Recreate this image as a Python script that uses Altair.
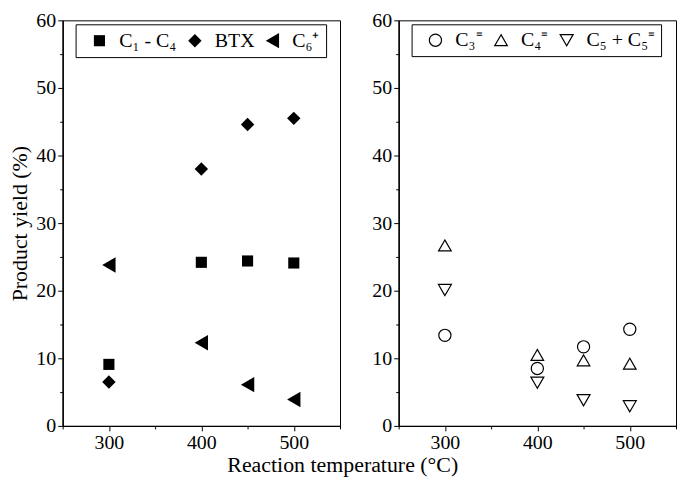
import altair as alt
import pandas as pd

temps = [300, 400, 450, 500]
c1c4 = [9.1, 24.2, 24.4, 24.1]
btx = [6.5, 38.0, 44.6, 45.5]
c6p = [23.8, 12.3, 6.1, 3.9]
c3 = [13.4, 8.5, 11.7, 14.3]
c4 = [26.7, 10.5, 9.7, 9.2]
c5 = [20.1, 6.4, 3.8, 2.9]

left_names = ["C\u2081 - C\u2084", "BTX", "C\u2086\u207a"]
right_names = ["C\u2083\u207c", "C\u2084\u207c", "C\u2085 + C\u2085\u207c"]
left_shapes = ["square", "diamond", "triangle-left"]
right_shapes = ["circle", "triangle-up", "triangle-down"]
left_sizes = [125, 240, 130]
right_sizes = [150, 170, 170]

FONT = "Liberation Serif"


def frame(names, series):
    rows = []
    for n, vals in zip(names, series):
        for t, v in zip(temps, vals):
            rows.append({"T": t, "v": v, "s": n})
    return pd.DataFrame(rows)


left_df = frame(left_names, [c1c4, btx, c6p])
right_df = frame(right_names, [c3, c4, c5])

xs = alt.Scale(domain=[250, 550], nice=False, zero=False)
ys = alt.Scale(domain=[0, 60], nice=False)


def panel(df, names, shapes, sizes, filled, ytitle):
    legend = alt.Legend(
        orient="none", legendX=13, legendY=4, direction="horizontal", title=None,
        strokeColor="black", padding=6, cornerRadius=0, labelFont=FONT,
        labelFontSize=20, labelColor="black",
        symbolFillColor="black" if filled else "transparent",
        symbolStrokeColor="black", symbolStrokeWidth=1.2,
        columnPadding=0, labelOffset=10, symbolOffset=8, labelLimit=300,
    )
    base = alt.Chart(df)
    pts = base.mark_point(
        filled=filled, color="black", opacity=1, strokeWidth=1.2
    ).encode(
        x=alt.X("T:Q", scale=xs, axis=alt.Axis(values=[300, 400, 500], tickSize=5,
                                               title=None, orient="bottom", labelPadding=2)),
        y=alt.Y("v:Q", scale=ys, axis=alt.Axis(values=list(range(0, 61, 10)), tickSize=5,
                                               title=ytitle, orient="left", labelPadding=2,
                                               titlePadding=4)),
        shape=alt.Shape("s:N", scale=alt.Scale(domain=names, range=shapes), legend=legend),
        size=alt.Size("s:N", scale=alt.Scale(domain=names, range=sizes), legend=legend),
    )
    minor = base.mark_point(opacity=0).encode(
        x=alt.X("T:Q", scale=xs, axis=alt.Axis(values=[250, 350, 450, 550], tickSize=3,
                                               labels=False, title=None, orient="bottom")),
        y=alt.Y("v:Q", scale=ys, axis=alt.Axis(values=list(range(5, 60, 10)), tickSize=3,
                                               labels=False, title=None, orient="left")),
    )
    return alt.layer(pts, minor).resolve_axis(x="independent", y="independent").properties(
        width=279, height=408
    )


left = panel(left_df, left_names, left_shapes, left_sizes, True, "Product yield (%)")
right = panel(right_df, right_names, right_shapes, right_sizes, False, None)

chart = alt.hconcat(left, right, spacing=30).resolve_scale(
    shape="independent", size="independent"
).properties(
    title=alt.TitleParams("Reaction temperature (\u00b0C)", orient="bottom", anchor="middle",
                          font=FONT, fontSize=22, fontWeight="normal", color="black", offset=2),
    padding={"left": 0, "top": 0, "right": 0, "bottom": 0},
).configure_view(stroke="black", strokeWidth=1).configure_axis(
    domainColor="black", tickColor="black", labelColor="black", labelFont=FONT,
    labelFontSize=20, titleFont=FONT, titleFontSize=22, titleFontWeight="normal",
    titleColor="black", grid=False,
)

chart.save("out.html", embed_options={"renderer": "svg", "actions": False})
